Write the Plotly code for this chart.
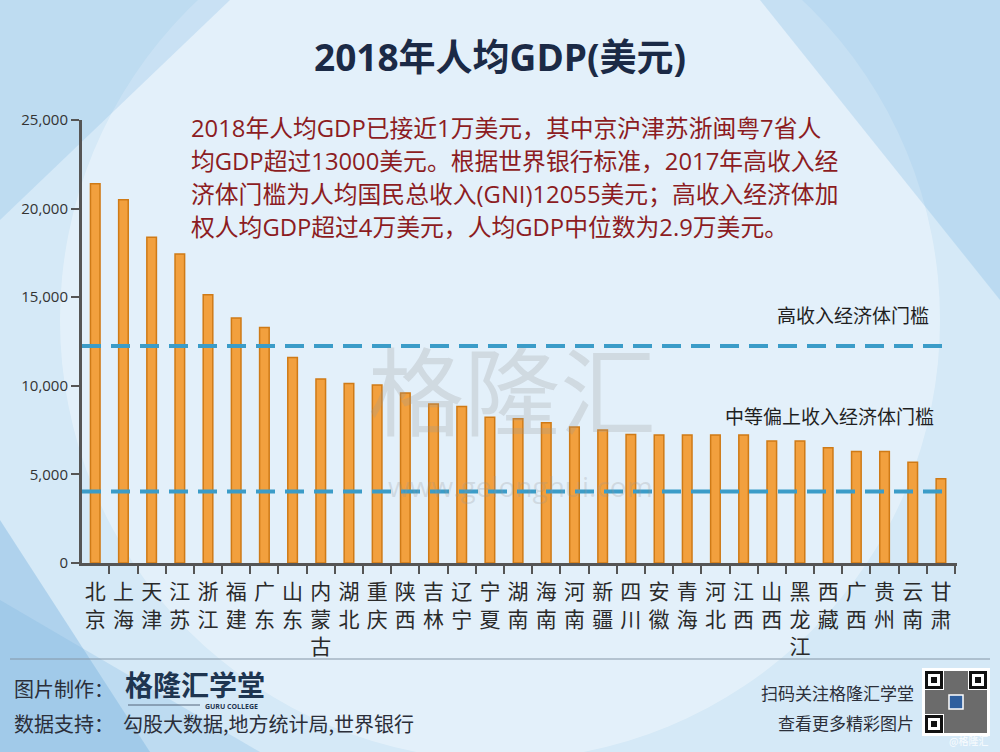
import plotly.graph_objects as go

# ---------------- data ----------------
provinces = ["北京", "上海", "天津", "江苏", "浙江", "福建", "广东", "山东", "内蒙古", "湖北",
             "重庆", "陕西", "吉林", "辽宁", "宁夏", "湖南", "海南", "河南", "新疆", "四川",
             "安徽", "青海", "河北", "江西", "山西", "黑龙江", "西藏", "广西", "贵州", "云南", "甘肃"]
gdp_per_capita_usd = [21400, 20500, 18380, 17440, 15140, 13820, 13290, 11600, 10380, 10130,
                      10040, 9590, 8970, 8830, 8230, 8140, 7910, 7680, 7500, 7250,
                      7230, 7230, 7230, 7220, 6890, 6890, 6510, 6290, 6290, 5690, 4750]
threshold_values = [12250, 4030]
threshold_labels = ["高收入经济体门槛", "中等偏上收入经济体门槛"]
y_tick_values = [0, 5000, 10000, 15000, 20000, 25000]

title_text = "2018年人均GDP(美元)"
note_lines = [
    "2018年人均GDP已接近1万美元，其中京沪津苏浙闽粤7省人",
    "均GDP超过13000美元。根据世界银行标准，2017年高收入经",
    "济体门槛为人均国民总收入(GNI)12055美元；高收入经济体加",
    "权人均GDP超过4万美元，人均GDP中位数为2.9万美元。",
]

# ---------------- geometry helpers (pixel -> paper) ----------------
L, R, T, B = 82, 957, 120, 563
W, H = 1000, 752


def px(x):
    return (x - L) / (R - L)


def py(y):
    return (B - y) / (B - T)


CJK = "Open Sans, Noto Sans CJK SC, sans-serif"

fig = go.Figure()

fig.add_trace(go.Bar(
    x=provinces,
    y=gdp_per_capita_usd,
    width=0.34,
    marker=dict(color="#f2a03e", line=dict(color="#cf7a16", width=1.5)),
    hoverinfo="x+y",
    showlegend=False,
))

shapes = []
# background decoration
shapes.append(dict(type="circle", xref="paper", yref="paper", layer="below",
                   x0=px(60), x1=px(940), y0=py(760), y1=py(-120),
                   fillcolor="rgba(255,255,255,0.35)", line=dict(width=0)))
shapes.append(dict(type="path", xref="paper", yref="paper", layer="below",
                   path=f"M {px(0)},{py(520)} L {px(150)},{py(752)} L {px(0)},{py(752)} Z",
                   fillcolor="rgba(90,160,215,0.30)", line=dict(width=0)))
shapes.append(dict(type="path", xref="paper", yref="paper", layer="below",
                   path=f"M {px(0)},{py(600)} L {px(260)},{py(752)} L {px(0)},{py(752)} Z",
                   fillcolor="rgba(120,180,225,0.25)", line=dict(width=0)))
shapes.append(dict(type="path", xref="paper", yref="paper", layer="below",
                   path=f"M {px(1000)},{py(0)} L {px(1000)},{py(300)} L {px(760)},{py(0)} Z",
                   fillcolor="rgba(110,175,225,0.25)", line=dict(width=0)))
shapes.append(dict(type="path", xref="paper", yref="paper", layer="below",
                   path=f"M {px(0)},{py(0)} L {px(230)},{py(0)} L {px(0)},{py(220)} Z",
                   fillcolor="rgba(110,175,225,0.22)", line=dict(width=0)))

# threshold dashed lines
for v in threshold_values:
    shapes.append(dict(type="line", xref="paper", yref="y", x0=0, x1=px(951), y0=v, y1=v,
                       line=dict(color="#3b9cc8", width=4, dash="19px,10px")))

# footer separator
shapes.append(dict(type="line", xref="paper", yref="paper", x0=px(10), x1=px(990),
                   y0=py(659), y1=py(659), line=dict(color="#8596a6", width=1)))
# GURU COLLEGE underline
shapes.append(dict(type="line", xref="paper", yref="paper", x0=px(128), x1=px(200),
                   y0=py(705), y1=py(705), line=dict(color="#55657a", width=1)))

# QR-code look-alike
qx0, qy0, qs = 922, 668, 68
shapes.append(dict(type="rect", xref="paper", yref="paper", x0=px(qx0), x1=px(qx0 + qs),
                   y0=py(qy0 + qs), y1=py(qy0), fillcolor="#ffffff", line=dict(width=0)))
shapes.append(dict(type="rect", xref="paper", yref="paper", x0=px(qx0 + 3), x1=px(qx0 + qs - 3),
                   y0=py(qy0 + qs - 3), y1=py(qy0 + 3), fillcolor="#6b6b6b", line=dict(width=0)))
for fx, fy in [(qx0 + 3, qy0 + 3), (qx0 + qs - 21, qy0 + 3), (qx0 + 3, qy0 + qs - 21)]:
    shapes.append(dict(type="rect", xref="paper", yref="paper", x0=px(fx - 1), x1=px(fx + 19),
                       y0=py(fy + 19), y1=py(fy - 1), fillcolor="#ffffff", line=dict(width=0)))
    shapes.append(dict(type="rect", xref="paper", yref="paper", x0=px(fx), x1=px(fx + 18),
                       y0=py(fy + 18), y1=py(fy), fillcolor="#111111", line=dict(width=0)))
    shapes.append(dict(type="rect", xref="paper", yref="paper", x0=px(fx + 3), x1=px(fx + 15),
                       y0=py(fy + 15), y1=py(fy + 3), fillcolor="#ffffff", line=dict(width=0)))
    shapes.append(dict(type="rect", xref="paper", yref="paper", x0=px(fx + 6), x1=px(fx + 12),
                       y0=py(fy + 12), y1=py(fy + 6), fillcolor="#111111", line=dict(width=0)))
shapes.append(dict(type="rect", xref="paper", yref="paper", x0=px(qx0 + 27), x1=px(qx0 + 41),
                   y0=py(qy0 + 41), y1=py(qy0 + 27), fillcolor="#2f5f9e",
                   line=dict(color="#ffffff", width=1.5)))

annotations = []
# title
annotations.append(dict(xref="paper", yref="paper", x=px(500), y=py(57), text=f"<b>{title_text}</b>",
                        showarrow=False, xanchor="center", yanchor="middle",
                        font=dict(family=CJK, size=37, color="#1b2a46")))
# note paragraph
for i, line in enumerate(note_lines):
    annotations.append(dict(xref="paper", yref="paper", x=px(189), y=py(128 + 33 * i), text=line,
                            showarrow=False, xanchor="left", yanchor="middle",
                            font=dict(family=CJK, size=23.8, color="#8c1c22")))
# threshold labels
annotations.append(dict(xref="paper", yref="paper", x=px(931), y=py(316), text=threshold_labels[0],
                        showarrow=False, xanchor="right", yanchor="middle",
                        font=dict(family=CJK, size=19, color="#1f1f1f")))
annotations.append(dict(xref="paper", yref="paper", x=px(936), y=py(417), text=threshold_labels[1],
                        showarrow=False, xanchor="right", yanchor="middle",
                        font=dict(family=CJK, size=19, color="#1f1f1f")))
# watermark
annotations.append(dict(xref="paper", yref="paper", x=px(512), y=py(386), text="格隆汇",
                        showarrow=False, xanchor="center", yanchor="middle",
                        font=dict(family="Noto Sans CJK SC", size=96, color="rgba(150,150,150,0.25)")))
annotations.append(dict(xref="paper", yref="paper", x=px(520), y=py(486), text="www.gelonghui.com",
                        showarrow=False, xanchor="center", yanchor="middle",
                        font=dict(family="Open Sans", size=28, color="rgba(150,150,150,0.25)")))
# footer
annotations.append(dict(xref="paper", yref="paper", x=px(12), y=py(688), text="图片制作：",
                        showarrow=False, xanchor="left", yanchor="middle",
                        font=dict(family="Noto Sans CJK SC", size=20, color="#2b2f3a")))
annotations.append(dict(xref="paper", yref="paper", x=px(123), y=py(684), text="<b>格隆汇学堂</b>",
                        showarrow=False, xanchor="left", yanchor="middle",
                        font=dict(family="Noto Sans CJK SC", size=28, color="#1e3550")))
annotations.append(dict(xref="paper", yref="paper", x=px(203), y=py(706), text="<b>GURU COLLEGE</b>",
                        showarrow=False, xanchor="left", yanchor="middle",
                        font=dict(family="Open Sans", size=7, color="#1e3550")))
annotations.append(dict(xref="paper", yref="paper", x=px(12), y=py(723),
                        text="数据支持：  勾股大数据,地方统计局,世界银行",
                        showarrow=False, xanchor="left", yanchor="middle",
                        font=dict(family="Noto Sans CJK SC", size=20, color="#2b2f3a")))
annotations.append(dict(xref="paper", yref="paper", x=px(916), y=py(692), text="扫码关注格隆汇学堂",
                        showarrow=False, xanchor="right", yanchor="middle",
                        font=dict(family="Noto Sans CJK SC", size=17, color="#2b2f3a")))
annotations.append(dict(xref="paper", yref="paper", x=px(916), y=py(722), text="查看更多精彩图片",
                        showarrow=False, xanchor="right", yanchor="middle",
                        font=dict(family="Noto Sans CJK SC", size=17, color="#2b2f3a")))
annotations.append(dict(xref="paper", yref="paper", x=px(990), y=py(740), text="@格隆汇",
                        showarrow=False, xanchor="right", yanchor="middle",
                        font=dict(family="Noto Sans CJK SC", size=10, color="rgba(255,255,255,0.9)")))

fig.update_layout(
    width=W, height=H,
    margin=dict(l=L, r=W - R, t=T, b=H - B, pad=0, autoexpand=False),
    paper_bgcolor="#d5e9f7",
    plot_bgcolor="rgba(0,0,0,0)",
    shapes=shapes,
    annotations=annotations,
    showlegend=False,
    xaxis=dict(
        type="category",
        range=[-0.47, len(provinces) - 0.43],
        tickmode="array",
        tickvals=provinces,
        ticktext=["<br>".join(list(p)) for p in provinces],
        tickangle=0,
        automargin=False,
        tickson="boundaries",
        ticklabelstandoff=8,
        ticks="outside", ticklen=8, tickwidth=2, tickcolor="#555555",
        showline=True, linecolor="#555555", linewidth=3,
        showgrid=False, zeroline=False,
        tickfont=dict(family="Noto Sans CJK SC", size=21, color="#2a2a2a"),
    ),
    yaxis=dict(
        range=[0, 25000],
        tickmode="array",
        tickvals=y_tick_values,
        tickformat=",d",
        automargin=False,
        ticks="outside", ticklen=8, tickwidth=2, tickcolor="#555555",
        showline=True, linecolor="#555555", linewidth=3,
        showgrid=False, zeroline=False,
        tickfont=dict(family="Open Sans", size=15, color="#333333"),
    ),
)

fig.write_html("out.html", post_script="document.body.style.margin='0px';",
               config={"displayModeBar": False})
